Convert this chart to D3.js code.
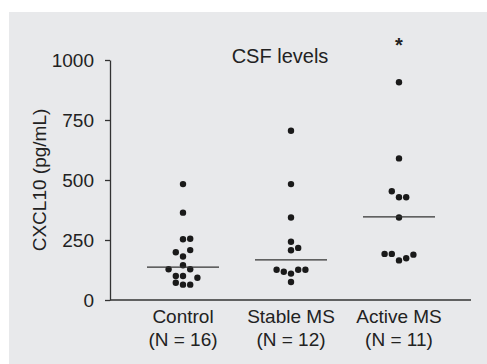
<!DOCTYPE html>
<html lang="en">
<head>
  <meta charset="UTF-8">
  <title>CSF levels</title>
  <script src="https://d3js.org/d3.v7.min.js"></script>
  <style>
    body { margin: 0; background: #fff; }
    text { font-family: "Liberation Sans", Arial, sans-serif; fill: #222; }
    .axis path, .axis line { stroke: #333; stroke-width: 1.3; }
    .axis text { font-size: 19px; font-family: "Liberation Sans", Arial, sans-serif; fill: #222; }
  </style>
</head>
<body>
<script>
  // groups
  var groups = ["Control", "Stable MS", "Active MS"];
  var groupN = ["(N = 16)", "(N = 12)", "(N = 11)"];

  // points: [value, slot] (slot = side-by-side position when dots overlap)
  var control = [[483,0],[364,0],[253,0],[255,1],[199,-1],[208,1],[181,0],[145,0],
                 [128,-2],[128,1],[100,-1],[100,0],[93,2],[72,-1],[64,0],[64,1]];
  var stable = [[705,0],[483,0],[344,0],[243,0],[207,0],[217,1],[126,-2],[118,-1],
                [110,0],[126,1],[126,2],[75,0]];
  var active = [[907,0],[590,0],[453,-1],[428,0],[428,1],[344,0],[192,-2],[192,-1],
                [165,0],[174,1],[189,2]];
  var points = [control, stable, active];

  // medians
  var medians = [137, 167, 346];
  var yTicks = [0, 250, 500, 750, 1000];

  var w = 487, h = 364;

  var svg = d3.select("body").append("svg")
    .attr("width", w).attr("height", h);

  svg.append("rect")
    .attr("x", 9).attr("y", 12)
    .attr("width", w - 9).attr("height", h - 12)
    .attr("fill", "#e8e9eb");

  var xScale = d3.scalePoint()
    .domain(groups)
    .range([183, 399]);

  var yScale = d3.scaleLinear()
    .domain([0, 1000])
    .range([300, 60]);

  var slotW = 7.2;

  // y axis
  var yAxis = d3.axisLeft(yScale)
    .tickValues(yTicks)
    .tickFormat(d3.format("d"))
    .tickSize(5)
    .tickSizeOuter(0)
    .tickPadding(11);

  svg.append("g")
    .attr("class", "axis")
    .attr("transform", "translate(110,0)")
    .call(yAxis);

  // x axis line
  svg.append("line")
    .attr("x1", 110).attr("x2", 471)
    .attr("y1", yScale(0)).attr("y2", yScale(0))
    .attr("stroke", "#333").attr("stroke-width", 1.3);

  // dots
  groups.forEach(function (g, i) {
    svg.append("g").selectAll("circle")
      .data(points[i])
      .enter()
      .append("circle")
      .attr("cx", function (d) { return xScale(g) + d[1] * slotW; })
      .attr("cy", function (d) { return yScale(d[0]); })
      .attr("r", 3.2)
      .attr("fill", "#1a1a1a");

    // median line
    svg.append("line")
      .attr("x1", xScale(g) - 36).attr("x2", xScale(g) + 36)
      .attr("y1", yScale(medians[i])).attr("y2", yScale(medians[i]))
      .attr("stroke", "#333").attr("stroke-width", 1.3);

    svg.append("text")
      .attr("x", xScale(g)).attr("y", 323)
      .attr("text-anchor", "middle")
      .attr("font-size", "19px")
      .text(g);

    svg.append("text")
      .attr("x", xScale(g)).attr("y", 346)
      .attr("text-anchor", "middle")
      .attr("font-size", "19px")
      .text(groupN[i]);
  });

  // significance marker
  svg.append("text")
    .attr("x", xScale("Active MS")).attr("y", 52)
    .attr("text-anchor", "middle")
    .attr("font-size", "20px")
    .attr("font-weight", "bold")
    .text("*");

  // title
  svg.append("text")
    .attr("x", 280).attr("y", 63)
    .attr("text-anchor", "middle")
    .attr("font-size", "20px")
    .text("CSF levels");

  // y label
  svg.append("text")
    .attr("transform", "translate(46,180) rotate(-90)")
    .attr("text-anchor", "middle")
    .attr("font-size", "19px")
    .text("CXCL10 (pg/mL)");
</script>
</body>
</html>
